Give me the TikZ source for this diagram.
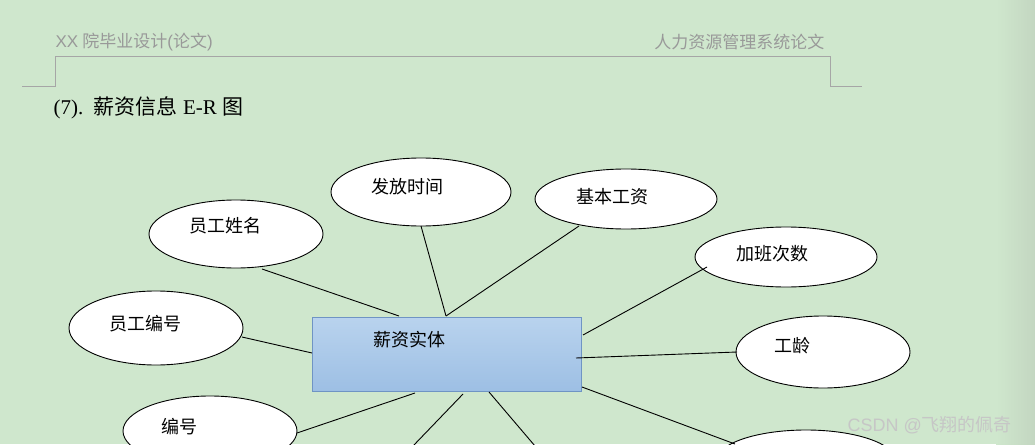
\documentclass[tikz,border=0pt]{standalone}
\usepackage{fontspec}
\usetikzlibrary{shapes.geometric}
\setmainfont{Liberation Serif}
\newfontfamily\cjk{Noto Sans CJK SC}
\newfontfamily\hsans{Liberation Sans}
\definecolor{bg}{HTML}{CFE7CD}
\definecolor{strip}{HTML}{C3D6C1}
\definecolor{boxtop}{HTML}{B9D3EE}
\definecolor{boxbot}{HTML}{9DBFE4}
\definecolor{boxedge}{HTML}{6F94C4}
\begin{document}
\begin{tikzpicture}[x=1pt,y=-1pt,
  attr/.style={draw=black,fill=white,ellipse,line width=0.9pt,inner sep=0pt},
  lbl/.style={font=\fontsize{18}{20}\selectfont\cjk},
  conn/.style={line width=0.9pt}]
\useasboundingbox (0,0) rectangle (1035,444);
\fill[bg] (0,0) rectangle (1035,444);
\shade[left color=bg, right color=strip] (996,0) rectangle (1035,444);
\clip (0,0) rectangle (1035,444);
% header
\node[anchor=west,text=gray!80,font=\fontsize{17}{19}\selectfont] (h1) at (52,42) {{\hsans XX} {\cjk 院毕业设计}{\hsans(}{\cjk 论文}{\hsans)}};
\node[anchor=east,text=gray!80,font=\fontsize{17}{19}\selectfont\cjk] (h2) at (828,42) {人力资源管理系统论文};
\draw[gray!70,line width=0.8pt] (22,86) -- (55,86) -- (55,56) -- (830,56) -- (830,86) -- (862,86);
\node[anchor=west,font=\fontsize{21}{23}\selectfont] (title) at (50,108) {(7).\ \ {\cjk 薪资信息} E-R {\cjk 图}};
% entity
\shade[top color=boxtop,bottom color=boxbot] (312,317) rectangle (581,391);
\draw[boxedge,line width=1pt] (312,317) rectangle (581,391);
\node[lbl] (et) at (409,340) {薪资实体};
% attributes
\node[attr,minimum width=174pt,minimum height=68pt] (a1) at (236,234) {};
\node[lbl] at (225,226) {员工姓名};
\node[attr,minimum width=180pt,minimum height=68pt] (a2) at (421,192) {};
\node[lbl] at (407,187) {发放时间};
\node[attr,minimum width=182pt,minimum height=60pt] (a3) at (626,199) {};
\node[lbl] at (612,197) {基本工资};
\node[attr,minimum width=182pt,minimum height=60pt] (a4) at (786,257) {};
\node[lbl] at (772,254) {加班次数};
\node[attr,minimum width=174pt,minimum height=72pt] (a5) at (823,352) {};
\node[lbl] at (792,346) {工龄};
\node[attr,minimum width=174pt,minimum height=74pt] (a6) at (156,328) {};
\node[lbl] at (145,324) {员工编号};
\node[attr,minimum width=174pt,minimum height=70pt] (a7) at (210,431) {};
\node[lbl] at (179,427) {编号};
\node[attr,minimum width=180pt,minimum height=62pt] (a8) at (806,461) {};
\coordinate (b1) at (413,446);
\coordinate (b2) at (535,446);
% connectors
\draw[conn] (262,269) -- (399,316);
\draw[conn] (421,226) -- (446,316);
\draw[conn] (579,226) -- (446,316);
\draw[conn] (707,267) -- (583,335);
\draw[conn] (737,352) -- (576,358);
\draw[conn] (242,337) -- (312,353);
\draw[conn] (297,433) -- (415,393);
\draw[conn] (463,394) -- (b1);
\draw[conn] (489,392) -- (b2);
\draw[conn] (582,387) -- (735,444);
\node[anchor=west,text=gray!45,font=\fontsize{18}{20}\selectfont] (wm) at (844,425) {{\hsans CSDN @}{\cjk 飞翔的佩奇}};
\end{tikzpicture}
\end{document}
